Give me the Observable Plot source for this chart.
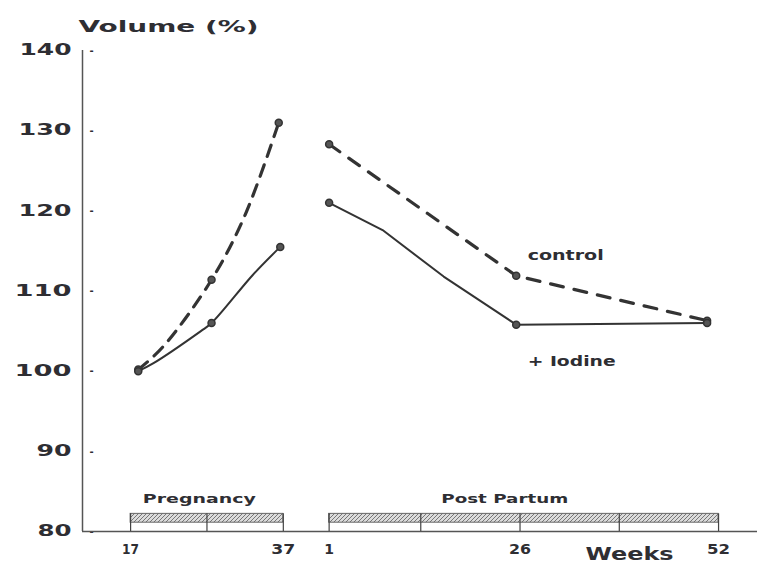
<!DOCTYPE html>
<html>
<head>
<meta charset="utf-8">
<script src="https://cdn.jsdelivr.net/npm/d3@7"></script>
<script src="https://cdn.jsdelivr.net/npm/@observablehq/plot@0.6"></script>
<style>
  html, body { margin: 0; padding: 0; background: #fff; }
  svg text { font-family: "DejaVu Sans", sans-serif; font-weight: bold; fill: #2e2e33; }
</style>
</head>
<body>
<div id="chart"></div>
<script>
// ---- data ----
// x positions: pregnancy weeks are used as-is, post-partum weeks are shifted by POST_OFFSET
const POST_OFFSET = 42;

const yTicks = [80, 90, 100, 110, 120, 130, 140];

const pregBarWeeks = [17, 27, 37];
const postBarWeeks = [1, 13, 26, 39, 52];

const pregTickLabels = [17, 37];
const postTickLabels = [1, 26, 52];

const periodNames = ["Pregnancy", "Post Partum"];
const periodLabelWeek = [26, 24 + POST_OFFSET];

const pregControlWeek = [18, 21.2, 27.6, 32, 36.4];
const pregControlVol  = [100.2, 103.0, 111.4, 119.5, 131.0];
const pregControlDotWeek = [18, 27.6, 36.4];
const pregControlDotVol  = [100.2, 111.4, 131.0];

const pregIodineWeek = [18, 20, 26.2, 27.6, 33, 36.6];
const pregIodineVol  = [100.0, 101.0, 105.0, 106.0, 112.0, 115.5];
const pregIodineDotWeek = [18, 27.6, 36.6];
const pregIodineDotVol  = [100.0, 106.0, 115.5];

const postControlWeek = [1, 25.5, 50.5];
const postControlVol  = [128.3, 111.9, 106.3];

const postIodineWeek = [1, 8, 16, 25.5, 50.5];
const postIodineVol  = [121.0, 117.6, 111.8, 105.8, 106.0];
const postIodineDotWeek = [1, 25.5, 50.5];
const postIodineDotVol  = [121.0, 105.8, 106.0];

const seriesNames = ["control", "+ Iodine"];

// ---- build tables ----
const pts = (xs, ys, off = 0) => xs.map((w, i) => ({x: w + off, y: ys[i]}));
const pregControl = pts(pregControlWeek, pregControlVol);
const pregIodine = pts(pregIodineWeek, pregIodineVol);
const postControl = pts(postControlWeek, postControlVol, POST_OFFSET);
const postIodine = pts(postIodineWeek, postIodineVol, POST_OFFSET);
const dots = [
  ...pts(pregControlDotWeek, pregControlDotVol),
  ...pts(pregIodineDotWeek, pregIodineDotVol),
  ...postControl,
  ...pts(postIodineDotWeek, postIodineDotVol, POST_OFFSET)
];

const bars = [
  {x1: pregBarWeeks[0], x2: pregBarWeeks[pregBarWeeks.length - 1]},
  {x1: postBarWeeks[0] + POST_OFFSET, x2: postBarWeeks[postBarWeeks.length - 1] + POST_OFFSET}
];
const barTicks = [...pregBarWeeks, ...postBarWeeks.map(w => w + POST_OFFSET)];
const xTickValues = [...pregTickLabels, ...postTickLabels.map(w => w + POST_OFFSET)];
const xTickText = new Map(xTickValues.map((v, i) => [v, String([...pregTickLabels, ...postTickLabels][i])]));

const X_MIN = 10.7, X_MAX = 99.1;
const BAR_LO = 81.1, BAR_HI = 82.2;

const chart = Plot.plot({
  width: 757,
  height: 569,
  marginLeft: 82,
  marginRight: 0,
  marginTop: 50,
  marginBottom: 38,
  style: {fontFamily: "DejaVu Sans, sans-serif", background: "#fff"},
  x: {domain: [X_MIN, X_MAX]},
  y: {domain: [80, 140]},
  marks: [
    // y axis labels
    Plot.axisY({ticks: yTicks, tickSize: 0, tickPadding: 11, fontSize: 15, label: null}),
    // small inner tick marks, detached from the axis line
    Plot.text(yTicks, {y: d => d, frameAnchor: "left", dx: 7, text: () => "-", fontSize: 10, fill: "#777"}),
    // x axis labels
    Plot.axisX({ticks: xTickValues, tickSize: 0, tickPadding: 13, fontSize: 14, label: null,
      tickFormat: v => xTickText.get(v)}),
    // axis lines
    Plot.ruleX([X_MIN], {stroke: "#555", strokeWidth: 1.5}),
    Plot.ruleY([80], {stroke: "#555", strokeWidth: 1.5}),
    // period bars
    Plot.rect(bars, {x1: "x1", x2: "x2", y1: BAR_LO, y2: BAR_HI, fill: "url(#hatch)", stroke: "#666", strokeWidth: 1}),
    Plot.ruleX(barTicks, {y1: 80, y2: BAR_HI, stroke: "#444", strokeWidth: 1.2}),
    Plot.text(periodNames, {x: (d, i) => periodLabelWeek[i], y: 84, text: d => d, fontSize: 12.5}),
    // curves
    Plot.line(pregControl, {x: "x", y: "y", curve: "catmull-rom", stroke: "#333", strokeWidth: 3.2, strokeDasharray: "12,9"}),
    Plot.line(postControl, {x: "x", y: "y", stroke: "#333", strokeWidth: 3.2, strokeDasharray: "13,11"}),
    Plot.line(pregIodine, {x: "x", y: "y", curve: "catmull-rom", stroke: "#333", strokeWidth: 2}),
    Plot.line(postIodine, {x: "x", y: "y", stroke: "#333", strokeWidth: 2}),
    Plot.dot(dots, {x: "x", y: "y", r: 3.5, fill: "#555", stroke: "#333"}),
    // series labels
    Plot.text([seriesNames[0]], {x: 27 + POST_OFFSET, y: 114.4, text: d => d, textAnchor: "start", fontSize: 14}),
    Plot.text([seriesNames[1]], {x: 27 + POST_OFFSET, y: 101.2, text: d => d, textAnchor: "start", fontSize: 13.5}),
    // titles
    Plot.text(["Volume (%)"], {frameAnchor: "top-left", dx: -4, dy: -30, text: d => d, textAnchor: "start", fontSize: 16.5}),
    Plot.text(["Weeks"], {frameAnchor: "bottom-right", dx: -128, dy: 28, text: d => d, textAnchor: "middle", fontSize: 18.5})
  ]
});

// hatch pattern for the period bars
const ns = "http://www.w3.org/2000/svg";
const defs = document.createElementNS(ns, "defs");
defs.innerHTML = `<pattern id="hatch" width="4" height="4" patternUnits="userSpaceOnUse">
  <rect width="4" height="4" fill="#dcdcdc"/>
  <path d="M0,4 L4,0" stroke="#777" stroke-width="1"/>
</pattern>`;
chart.insertBefore(defs, chart.firstChild);

// the original lettering is a wide (extended) face: stretch glyphs to the widths seen in the picture
const textWidths = {
  "140": 52, "130": 53, "120": 53, "110": 57, "100": 57, "90": 35, "80": 34,
  "17": 17, "37": 24, "26": 22, "52": 23,
  "Weeks": 88, "Volume (%)": 180, "Pregnancy": 113, "Post Partum": 127,
  "control": 76, "+ Iodine": 88
};
chart.querySelectorAll("text").forEach(t => {
  const w = textWidths[t.textContent];
  if (w) {
    t.setAttribute("textLength", w);
    t.setAttribute("lengthAdjust", "spacingAndGlyphs");
  }
});

document.getElementById("chart").appendChild(chart);
</script>
</body>
</html>
